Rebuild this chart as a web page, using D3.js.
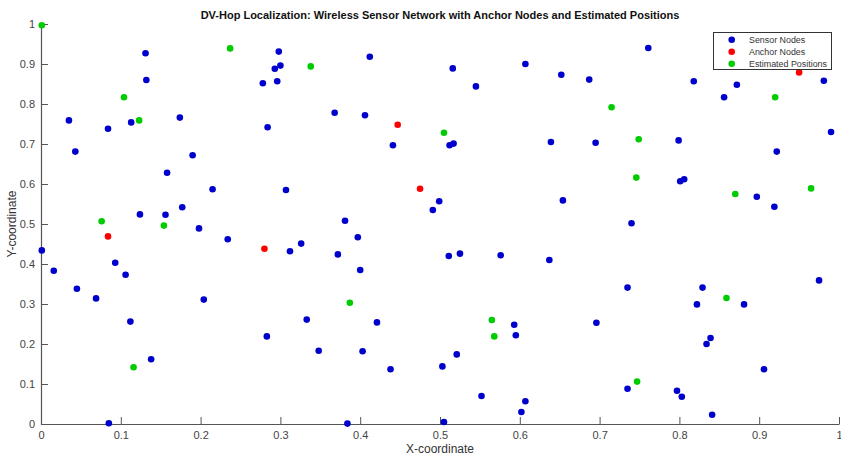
<!DOCTYPE html>
<html>
<head>
<meta charset="utf-8">
<script src="https://cdn.jsdelivr.net/npm/d3@7"></script>
<style>
  body { margin: 0; background: #fff; }
  svg text { font-family: "Liberation Sans", Arial, Helvetica, sans-serif; }
</style>
</head>
<body>
<div id="chart"></div>
<script>
// Sensor nodes (blue)
const sensorX = [0.131, 0.132, 0.035, 0.043, 0.084, 0.113, 0.174, 0.190, 0.278, 0.284,
  0.293, 0.298, 0.296, 0.300, 0.412, 0.368, 0.406, 0.441, 0.512, 0.517,
  0.516, 0.545, 0.607, 0.639, 0.652, 0.761, 0.687, 0.695, 0.799, 0.818,
  0.856, 0.872, 0.922, 0.981, 0.990, 0.158, 0.215, 0.177, 0.124, 0.156,
  0.198, 0.234, 0.307, 0.001, 0.016, 0.093, 0.106, 0.045, 0.069, 0.204,
  0.312, 0.326, 0.381, 0.397, 0.372, 0.400, 0.499, 0.491, 0.511, 0.525,
  0.576, 0.637, 0.654, 0.801, 0.806, 0.897, 0.919, 0.740, 0.735, 0.829,
  0.822, 0.881, 0.975, 0.112, 0.138, 0.085, 0.283, 0.333, 0.421, 0.348,
  0.403, 0.438, 0.503, 0.521, 0.384, 0.505, 0.552, 0.593, 0.595, 0.607,
  0.602, 0.696, 0.839, 0.834, 0.906, 0.735, 0.797, 0.803, 0.841];
const sensorY = [0.927, 0.860, 0.759, 0.681, 0.738, 0.754, 0.766, 0.672, 0.852, 0.742,
  0.888, 0.931, 0.857, 0.896, 0.918, 0.778, 0.772, 0.697, 0.697, 0.701,
  0.889, 0.844, 0.900, 0.705, 0.873, 0.940, 0.861, 0.703, 0.709, 0.857,
  0.817, 0.848, 0.681, 0.858, 0.730, 0.628, 0.587, 0.542, 0.524, 0.523,
  0.489, 0.462, 0.585, 0.434, 0.383, 0.403, 0.373, 0.338, 0.314, 0.311,
  0.432, 0.451, 0.508, 0.467, 0.424, 0.385, 0.557, 0.535, 0.420, 0.426,
  0.422, 0.410, 0.559, 0.607, 0.612, 0.568, 0.543, 0.502, 0.341, 0.341,
  0.299, 0.299, 0.359, 0.256, 0.162, 0.002, 0.219, 0.261, 0.254, 0.183,
  0.182, 0.137, 0.144, 0.174, 0.001, 0.005, 0.070, 0.248, 0.222, 0.057,
  0.030, 0.253, 0.215, 0.200, 0.137, 0.088, 0.083, 0.068, 0.023];

// Anchor nodes (red)
const anchorX = [0.447, 0.950, 0.084, 0.280, 0.475];
const anchorY = [0.748, 0.879, 0.469, 0.438, 0.588];

// Estimated positions (green)
const estX = [0.001, 0.237, 0.104, 0.123, 0.338, 0.505, 0.715, 0.749, 0.920, 0.076,
  0.154, 0.387, 0.746, 0.870, 0.965, 0.859, 0.116, 0.565, 0.568, 0.747];
const estY = [0.997, 0.939, 0.817, 0.759, 0.894, 0.728, 0.792, 0.712, 0.817, 0.507,
  0.496, 0.303, 0.616, 0.575, 0.589, 0.315, 0.142, 0.260, 0.219, 0.106];

const ticks = [0, 0.1, 0.2, 0.3, 0.4, 0.5, 0.6, 0.7, 0.8, 0.9, 1];
const legendLabels = ['Sensor Nodes', 'Anchor Nodes', 'Estimated Positions'];
const colors = ['#0000cd', '#ff0000', '#00cc00'];

const width = 841;
const height = 458;
const margin = { top: 24, right: 2, bottom: 34, left: 41 };

const svg = d3.select('#chart')
  .append('svg')
  .attr('width', width)
  .attr('height', height);

const x = d3.scaleLinear().domain([0, 1]).range([margin.left, width - margin.right]);
const y = d3.scaleLinear().domain([0, 1]).range([height - margin.bottom, margin.top]);

const tickFmt = (d) => (d === 0 || d === 1 ? String(d) : d3.format('.1f')(d));

// Axes: ticks point inward like MATLAB
const xAxis = svg.append('g')
  .attr('transform', `translate(0,${y(0)})`)
  .call(d3.axisBottom(x).tickValues(ticks).tickFormat(tickFmt).tickSizeInner(-7).tickSizeOuter(0).tickPadding(7));
const yAxis = svg.append('g')
  .attr('transform', `translate(${x(0)},0)`)
  .call(d3.axisLeft(y).tickValues(ticks).tickFormat(tickFmt).tickSizeInner(-7).tickSizeOuter(0).tickPadding(6));

[xAxis, yAxis].forEach((g) => {
  g.select('.domain').attr('stroke', '#555').attr('stroke-width', 1.2);
  g.selectAll('.tick line').attr('stroke', '#555');
  g.selectAll('.tick text').attr('fill', '#444').style('font-size', '11px');
});

// Points
const groups = [
  { xs: sensorX, ys: sensorY, color: colors[0] },
  { xs: anchorX, ys: anchorY, color: colors[1] },
  { xs: estX, ys: estY, color: colors[2] },
];

groups.forEach((grp) => {
  svg.append('g')
    .selectAll('circle')
    .data(grp.xs.map((v, i) => [v, grp.ys[i]]))
    .enter()
    .append('circle')
    .attr('cx', (d) => x(d[0]))
    .attr('cy', (d) => y(d[1]))
    .attr('r', 3.3)
    .attr('fill', grp.color);
});

// Title and axis labels
svg.append('text')
  .attr('x', 440)
  .attr('y', 19)
  .attr('text-anchor', 'middle')
  .style('font-size', '11px')
  .style('font-weight', 'bold')
  .attr('fill', '#111')
  .text('DV-Hop Localization: Wireless Sensor Network with Anchor Nodes and Estimated Positions');

svg.append('text')
  .attr('x', 440)
  .attr('y', 453)
  .attr('text-anchor', 'middle')
  .style('font-size', '12px')
  .attr('fill', '#333')
  .text('X-coordinate');

svg.append('text')
  .attr('transform', `translate(16,${(y(0) + y(1)) / 2}) rotate(-90)`)
  .attr('text-anchor', 'middle')
  .style('font-size', '12px')
  .attr('fill', '#333')
  .text('Y-coordinate');

// Legend
const legend = svg.append('g');
legend.append('rect')
  .attr('x', 713.5)
  .attr('y', 32.5)
  .attr('width', 118)
  .attr('height', 37)
  .attr('fill', '#fff')
  .attr('stroke', '#333')
  .attr('stroke-width', 1);

legendLabels.forEach((label, i) => {
  const ly = 39.7 + i * 12;
  legend.append('circle')
    .attr('cx', 731.7)
    .attr('cy', ly)
    .attr('r', 3.3)
    .attr('fill', colors[i]);
  legend.append('text')
    .attr('x', 749)
    .attr('y', ly + 3.3)
    .style('font-size', '8.9px')
    .attr('fill', '#333')
    .text(label);
});
</script>
</body>
</html>
